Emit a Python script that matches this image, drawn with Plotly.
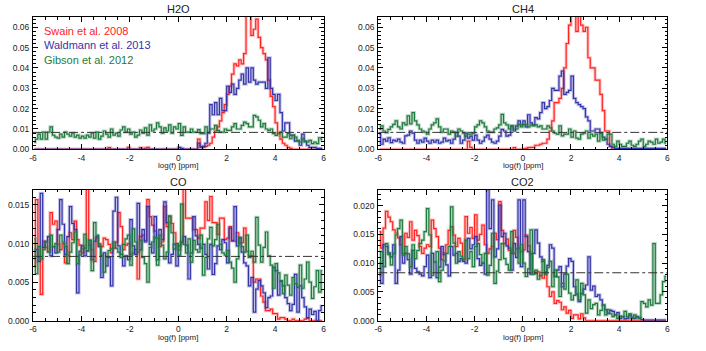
import numpy as np
import plotly.graph_objects as go

# Histogram bins: 120 bins of 0.1 in log(f) [ppm], from -6 to 6
nbins = 120
edges = np.linspace(-6, 6, nbins + 1)
centers = 0.5 * (edges[:-1] + edges[1:])

# Posterior histograms, values in units of 1e-3 (normalised, sum ~ 1)
h2o_swain = [
    0, 0, 0, 0, 0, 0, 0, 0, 0, 0,
    0, 0, 0, 0, 0, 0, 0, 0, 0, 0,
    0, 0, 0, 0, 0, 0, 0, 0, 0, 0,
    0, 0.8, 0, 0, 0, 0, 0, 0, 0, 1.0,
    0, 0, 0, 0, 0.8, 0, 0.6, 1.0, 0, 0,
    0, 0, 0, 0, 0, 0, 0, 0, 0, 0,
    0, 0, 0, 0, 0, 0, 0, 0, 5, 1.5,
    1, 1.5, 2, 3, 6, 9, 11, 14, 18, 22,
    27, 31, 37, 42, 41, 44, 42, 47, 66, 68,
    56, 59, 64, 55, 50, 47, 44, 34, 26, 21,
    13, 8, 5, 3, 2, 1, 0.5, 0, 0, 0,
    0, 0, 0, 0, 0, 0, 0, 0, 0, 0,
]
h2o_waldmann = [
    0, 0, 0, 0, 0, 0, 0, 0, 0, 0,
    0, 0, 0, 0, 0, 0, 0, 0, 0, 0,
    0, 0, 0, 0, 0, 0, 0, 0, 0, 0,
    0, 0, 0, 0, 0, 0, 0, 0, 0, 0,
    0, 0, 0, 0, 0, 0, 0, 0, 0, 0,
    0, 0, 0, 0, 0, 0, 0, 0, 0, 0,
    1, 0.5, 0, 0, 0, 0, 0, 0, 3, 1,
    1.5, 3, 8, 22, 17, 23, 17, 25, 19, 19,
    31, 28, 32, 27, 30, 34, 37, 32, 40, 33,
    40, 34, 32, 33, 33, 33, 30, 45, 30, 27,
    24, 27, 18, 9, 13, 13, 7, 7, 4, 4,
    2, 7.5, 4, 2, 1, 1, 1, 0.5, 0.5, 0.5,
]
h2o_gibson = [
    3.5, 5, 7.5, 5, 8.5, 5, 8.5, 11, 7, 6,
    5.5, 7.5, 6, 8.5, 7.5, 6.5, 8, 6, 7, 5.5,
    6.5, 5.5, 7, 6, 8, 5.5, 8.5, 5, 6.5, 9,
    7.5, 6, 10, 7, 8, 6.5, 9.5, 11, 8.5, 10,
    7.5, 8.5, 6, 7, 9.5, 8, 10.5, 7, 12, 9,
    10, 13, 11, 8, 10.5, 9, 12, 8, 11, 10,
    12.6, 6.9, 11, 8.5, 8.5, 10, 8.5, 8.5, 9.7, 7.7,
    7.7, 11, 8.5, 10, 10, 11.8, 9.3, 8.5, 8.5, 10,
    9.3, 9.3, 11, 12.6, 10, 10, 11.8, 13.4, 12.6, 11,
    11, 16.7, 16, 14.3, 11, 12.6, 10, 9.3, 10, 7.7,
    6.9, 7.7, 8.5, 6, 6, 7.7, 5.2, 6.9, 6, 4.4,
    3.6, 5.2, 3.6, 3.6, 4.4, 2.8, 3.6, 2.8, 5.7, 4.8,
]

ch4_swain = [
    0, 0, 0, 0, 0, 0, 0, 0, 0, 0,
    0, 0, 0, 0, 0, 0, 0, 0, 0, 0,
    0, 0, 0, 0, 0, 0, 0, 0, 0, 0,
    0, 0, 0, 0, 0, 0, 0, 4, 1, 0,
    0, 0, 0, 0, 0, 0, 0, 0, 0, 0,
    0, 0, 0, 0, 0, 0, 0.8, 0, 0, 0,
    0.3, 0.5, 0.8, 1, 1, 2, 2, 2.5, 3, 3,
    5, 9, 14, 23, 23, 25, 30, 40, 52, 61,
    68, 68, 58, 68, 61, 58, 60, 45, 40, 40,
    34, 34, 27, 19, 9, 9, 1.6, 0, 0, 0,
    0, 0, 0, 0, 0, 0, 0, 0, 0, 0,
    0, 0, 0, 0, 0, 0, 0, 0, 0, 0,
]
ch4_waldmann = [
    7.4, 2.5, 5, 4, 5.7, 3.3, 4.5, 4, 5, 3.5,
    3, 6.6, 7, 9, 8, 4.5, 3, 4.5, 3.5, 5.5,
    4, 3, 4.5, 3.5, 4.5, 3, 3.5, 5.5, 4, 4.5,
    3, 5, 8.2, 6.5, 3, 4.5, 8, 5.5, 6.5, 4.5,
    7, 4.5, 3, 4, 6, 7, 5, 3.5, 3, 4,
    6.5, 9.8, 9, 6.5, 7, 11.5, 9, 11.5, 14, 12,
    14, 11, 17, 13, 12, 15.6, 15, 18, 23, 20,
    21, 24, 30, 29, 29, 36, 38.5, 27, 28, 29,
    36, 25, 23, 22, 21, 20, 16, 14, 9, 9,
    10, 10, 8, 6, 5, 2.5, 1.5, 1, 0.5, 0.5,
    0.5, 0.5, 0.5, 0.5, 0.5, 0.5, 0.5, 0.5, 0.5, 0.5,
    0.5, 0.5, 0.5, 0.5, 0.5, 0.5, 0.5, 0.5, 0.5, 0.5,
]
ch4_gibson = [
    9.8, 11.5, 9, 8.2, 9.8, 11, 12.3, 14, 11, 10,
    13, 12, 16.4, 12.5, 18, 14, 12, 10, 9, 8.5,
    7.5, 10, 12, 13, 15, 11, 8.5, 10, 10, 7.5,
    9, 8.5, 6.5, 10, 9, 8, 6.5, 7.5, 7.5, 8,
    11, 12, 14, 13, 11, 9, 8.5, 8.5, 10, 10.5,
    12, 17.2, 13, 12, 10, 11.5, 10, 10, 12.3, 11,
    12.3, 12, 11, 12, 11.5, 12, 11, 11.5, 10, 10,
    11.5, 10.5, 9, 8, 7.5, 11.5, 6.6, 7.5, 7.5, 10,
    6, 9, 5.5, 5, 7.5, 8, 9, 5.5, 7.5, 6.5,
    7.5, 4, 8, 4.5, 5, 7.5, 7.5, 2.5, 1.5, 4,
    2.5, 1.5, 1.5, 3, 4, 2, 1.5, 2.5, 4, 5,
    1.5, 2.5, 4, 3.5, 2.5, 5, 3, 3.5, 5, 3,
]

co_swain = [
    7.1, 15.7, 8.2, 3.4, 10.3, 9.5, 9, 14, 12.5, 12.9,
    9.9, 9.2, 10, 7.5, 8.4, 11.4, 10.5, 12.9, 10.5, 9.8,
    8.8, 9.4, 17.5, 9.8, 9.2, 7.7, 10.7, 10, 9.6, 10.7,
    10.5, 9.9, 8.8, 9.4, 10.2, 14, 12.2, 9.2, 9.8, 10,
    8.6, 8.8, 9.2, 5.4, 10.9, 11.1, 10.4, 15.7, 13.5, 12.4,
    11.6, 10.7, 9.6, 10.2, 14.8, 12.2, 13.5, 12.6, 11.4, 10,
    9.2, 10.3, 17.5, 13.3, 13.3, 13.3, 11.8, 11.8, 10.7, 12,
    12, 15.4, 13, 16.1, 12.7, 12.7, 11.2, 13.3, 13.3, 10.5,
    10.7, 12.2, 10.3, 10.3, 11.4, 10.1, 10.1, 12, 9, 8.4,
    8.4, 5, 5.4, 5.4, 3.2, 2.4, 1.3, 1.3, 1.5, 0.9,
    0.9, 0.2, 0.4, 0.4, 0.2, 0, 0, 0.2, 0, 0,
    0, 0, 0.2, 0.3, 0, 0, 0, 0, 0, 0,
]
co_waldmann = [
    9, 9.2, 7.7, 16.5, 9.5, 10.3, 10.9, 8.4, 9.6, 8.8,
    11.8, 15.7, 12.5, 8.6, 10.9, 14.8, 12.6, 11.8, 3.6, 9,
    9.7, 8.4, 9, 10.4, 7.9, 10.3, 10.9, 9.6, 5.6, 8.8,
    7.1, 8.2, 4.5, 14.2, 16, 9.7, 8.6, 7.1, 8.4, 7.9,
    13.1, 9.7, 8.6, 15.2, 9.2, 11.8, 10.2, 14.8, 9.9, 8.8,
    13.5, 7.9, 11.8, 10.5, 15.4, 12.7, 7.5, 8.6, 9.9, 7.1,
    9.7, 10.1, 10.9, 9.8, 5.4, 8.8, 13.5, 11, 9.9, 9.4,
    9.9, 8.6, 6.7, 9.9, 6, 7.4, 9.7, 9.2, 10.5, 10.1,
    7.5, 12, 10.4, 14.8, 9.7, 10.7, 8.9, 7.5, 7.1, 4.5,
    5.6, 1.1, 4.1, 5.2, 4.5, 3.6, 1.7, 3, 3.2, 6.9,
    6.5, 3.3, 5.1, 4.5, 3, 2.2, 1.3, 2.1, 6, 1.1,
    4.5, 3, 1.8, 0.4, 1.5, 0.8, 1.2, 0, 1.3, 1.9,
]
co_gibson = [
    10.6, 6.1, 9.6, 8.0, 9.2, 10.2, 8.9, 11.1, 9.6, 10.0,
    8.9, 11.1, 10.2, 9.6, 7.4, 8.9, 10.1, 11.5, 7.4, 8.5,
    9.3, 11.2, 9.1, 10.4, 6.5, 12.7, 11.1, 9.8, 8.5, 6.3,
    8.2, 9.1, 9.3, 10.2, 9.4, 8.9, 8.2, 9.9, 10.6, 11.1,
    7.2, 11.9, 10.2, 8.9, 10.4, 8.2, 7.4, 5.0, 9.5, 10.2,
    10.8, 7.2, 11.1, 9.8, 8.0, 8.9, 13.6, 11.4, 9.3, 10.0,
    8.5, 15.1, 9.9, 8.8, 10.6, 7.6, 10.4, 9.2, 8.9, 11.1,
    5.9, 8.2, 10.6, 12.1, 9.7, 10.5, 12.5, 9.9, 8.8, 8.5,
    9.1, 7.6, 6.8, 5.0, 8.0, 10.8, 9.6, 8.9, 11.1, 8.2,
    9.0, 7.6, 13.4, 9.8, 7.6, 9.5, 11.5, 8.4, 7.2, 4.2,
    7.4, 6.2, 5.2, 3.5, 5.9, 4.6, 3.3, 5.6, 4.8, 4.3,
    7.2, 4.2, 5.4, 7.6, 5.0, 2.9, 4.4, 6.5, 3.7, 6.5,
]

co2_swain = [
    15.5, 12.6, 16.1, 19, 18, 17.2, 15.8, 15.2, 14.4, 13.2,
    11.7, 15.2, 14.5, 17.2, 14, 15.7, 14.8, 12.9, 11.7, 12.6,
    13.2, 12.9, 17.5, 16, 14.6, 12.6, 10.6, 11.8, 13.2, 15.7,
    16.3, 14.9, 12.9, 14.3, 13.5, 10.6, 18.1, 15.2, 16.2, 14.3,
    18.4, 14, 15, 16.6, 13.2, 11.7, 12.5, 12.9, 15.2, 14.1,
    20.7, 15.7, 13.4, 14.2, 12.2, 11.7, 15.7, 14.5, 12.6, 12.0,
    12.3, 14.9, 13, 11.6, 8.5, 8.2, 8.5, 7.8, 7.4, 8,
    5.9, 4.2, 5, 3, 3.5, 3.2, 1.9, 2.4, 1.3, 1.8,
    0.4, 1, 1.0, 0.3, 1.2, 0.5, 0, 0, 0, 0,
    0, 0, 0, 0, 0, 0, 0, 0, 0, 0,
    0, 0, 0, 0, 0, 0, 0, 0, 0, 0,
    0, 0, 0, 0, 0, 0, 0, 0, 0, 0,
]
co2_waldmann = [
    10, 6.5, 13.2, 12.9, 11.8, 11.1, 13.2, 6.5, 8.8, 14.6,
    10, 11.7, 10.6, 8.1, 12.2, 9.1, 8.5, 8.1, 7.8, 9.4,
    11.4, 7.5, 11.7, 10.2, 7.5, 9.3, 12.9, 11.5, 9.7, 7.8,
    12.9, 11.4, 11.7, 10.3, 10.8, 10.3, 10, 14.3, 12.5, 13.2,
    14.6, 10.8, 9.6, 10, 8.1, 23.5, 16, 21, 11.1, 12.5,
    20.1, 14.6, 15.2, 13, 12.6, 8.8, 13.4, 11, 21, 9.4,
    21, 14.6, 12, 8.1, 11.7, 15.8, 13.5, 11.1, 10.3, 8.5,
    9.6, 13.2, 12.6, 7.7, 8.8, 9.4, 5.9, 8.1, 9.5, 10.8,
    10.3, 5.9, 4.6, 3.3, 4.7, 5.5, 6.2, 11.1, 5.3, 6,
    4.2, 4.5, 3.6, 2.7, 1.9, 1.3, 1.8, 1.6, 1, 1.4,
    0.4, 0.7, 0.3, 0.4, 1, 0.6, 0.4, 0.7, 0.5, 0.2,
    0.1, 0.1, 0.1, 0.1, 0.1, 0.1, 0.1, 0.1, 0.1, 0.1,
]
co2_gibson = [
    7.9, 12, 9.4, 13.4, 11.5, 9.7, 11.7, 14.9, 16, 17.5,
    11.4, 12.9, 11.6, 9.4, 13.2, 10.8, 12.2, 13.4, 14, 15.5,
    19.5, 14.9, 7.9, 10.2, 12, 6.8, 8.8, 10.4, 11.7, 12.9,
    19.8, 13.5, 10, 12, 11.2, 10.6, 14, 10.8, 12, 9.4,
    12.9, 13.4, 11.5, 10, 11.7, 7.9, 9.6, 15.2, 6.5, 8.6,
    10.6, 13.4, 10.8, 9.8, 8.8, 15.5, 11.7, 12.5, 10, 13.2,
    10, 7.7, 9, 15.8, 8.1, 8.8, 7.2, 7.9, 10.6, 8.1,
    9.2, 10.3, 5.9, 8.8, 7.6, 4.2, 6.5, 5.5, 8.1, 4.8,
    3.6, 4.4, 7.1, 3.6, 6.5, 4.5, 1.3, 3.6, 2.1, 2.8,
    3, 1, 1.8, 2.7, 1, 1.9, 1.2, 0.7, 1, 0.4,
    0.8, 0.7, 1.6, 0.7, 1.2, 0.4, 1, 0.6, 0.4, 3.3,
    3, 2.4, 3.6, 2.7, 13.4, 3, 3, 4.5, 6.8, 7.7,
]

molecules = ['H2O', 'CH4', 'CO', 'CO2']
sources = ['Swain et al. 2008', 'Waldmann et al. 2013', 'Gibson et al. 2012']
panel_data = [
    [h2o_swain, h2o_waldmann, h2o_gibson],
    [ch4_swain, ch4_waldmann, ch4_gibson],
    [co_swain, co_waldmann, co_gibson],
    [co2_swain, co2_waldmann, co2_gibson],
]
y_max = [0.065, 0.065, 0.017, 0.0228]

colors = ['#ff2222', '#3434a8', '#1f7a3e']
halos = ['rgba(255,60,60,0.30)', 'rgba(60,60,180,0.30)', 'rgba(40,130,70,0.30)']

# Panel placement in paper coordinates (706 x 351 window)
W, H = 706, 351
x_dom = [(29.3 / W, 322.7 / W), (378 / W, 670 / W)] * 2
y_dom = [(1 - 151.5 / H, 1 - 17.3 / H)] * 2 + [(1 - 325.3 / H, 1 - 192.3 / H)] * 2

fig = go.Figure()
font = 'Liberation Sans, Arial, sans-serif'
layout = dict(
    width=W, height=H, margin=dict(l=0, r=0, t=0, b=0),
    paper_bgcolor='white', plot_bgcolor='white', showlegend=False,
    font=dict(family=font, color='#222222', size=9),
)
annotations = []
shapes = []

for p in range(4):
    ax = '' if p == 0 else str(p + 1)
    for s in range(3):
        vals = np.array(panel_data[p][s]) * 1e-3
        fig.add_trace(go.Scatter(x=centers, y=vals, mode='lines', line_shape='hvh',
                                 line=dict(color=halos[s], width=3.2),
                                 xaxis='x' + ax, yaxis='y' + ax, hoverinfo='skip'))
        fig.add_trace(go.Scatter(x=centers, y=vals, mode='lines', line_shape='hvh',
                                 line=dict(color=colors[s], width=1.2),
                                 xaxis='x' + ax, yaxis='y' + ax, name=sources[s]))
    # uniform prior level
    shapes.append(dict(type='line', xref='x' + ax, yref='y' + ax,
                       x0=edges[0], x1=edges[-1], y0=1 / nbins, y1=1 / nbins,
                       line=dict(color='#333333', width=1, dash='dashdot')))

    if y_max[p] > 0.03:
        ydt, yminor, yfmt = 0.01, 0.002, '.2f'
    else:
        ydt, yminor, yfmt = 0.005, 0.001, '.3f'

    layout['xaxis' + ax] = dict(
        domain=list(x_dom[p]), anchor='y' + ax, range=[-6, 6],
        tickmode='array', tickvals=[-6, -4, -2, 0, 2, 4, 6],
        ticktext=['-6', '-4', '-2', '0', '2', '4', '6'],
        ticks='inside', ticklen=5, tickcolor='black', mirror='ticks',
        showline=True, linecolor='black', linewidth=1, showgrid=False, zeroline=False,
        minor=dict(tickmode='linear', tick0=-6, dtick=0.5, ticks='inside', ticklen=2.5,
                   tickcolor='black', showgrid=False),
        tickfont=dict(size=8.5), ticklabelstandoff=0,
    )
    layout['yaxis' + ax] = dict(
        domain=list(y_dom[p]), anchor='x' + ax, range=[0, y_max[p]],
        tickmode='linear', tick0=0, dtick=ydt, tickformat=yfmt,
        ticks='inside', ticklen=5, tickcolor='black', mirror='ticks',
        showline=True, linecolor='black', linewidth=1, showgrid=False, zeroline=False,
        minor=dict(tickmode='linear', tick0=0, dtick=yminor, ticks='inside', ticklen=2.5,
                   tickcolor='black', showgrid=False),
        tickfont=dict(size=8.5), ticklabelstandoff=1,
    )
    xc = 0.5 * (x_dom[p][0] + x_dom[p][1])
    annotations.append(dict(text=molecules[p], xref='paper', yref='paper', x=xc, y=y_dom[p][1],
                            xanchor='center', yanchor='bottom', yshift=0, showarrow=False,
                            font=dict(size=11, color='#222222')))
    annotations.append(dict(text='log(f) [ppm]', xref='paper', yref='paper', x=xc, y=y_dom[p][0],
                            xanchor='center', yanchor='middle', yshift=-16.5, showarrow=False,
                            font=dict(size=8, color='#222222')))

# legend text in the first panel
for s, ypx in enumerate([31.5, 46, 60.5]):
    annotations.append(dict(text=sources[s], xref='paper', yref='paper', x=38 / W, y=1 - ypx / H,
                            xanchor='left', yanchor='middle', showarrow=False,
                            font=dict(size=11, color=colors[s])))

layout['annotations'] = annotations
layout['shapes'] = shapes
fig.update_layout(**layout)

# the page body has a default 8px margin; drop it so the figure fills the window
fig.write_html("out.html", config={'displayModeBar': False},
               post_script="document.body.style.margin='0';")
